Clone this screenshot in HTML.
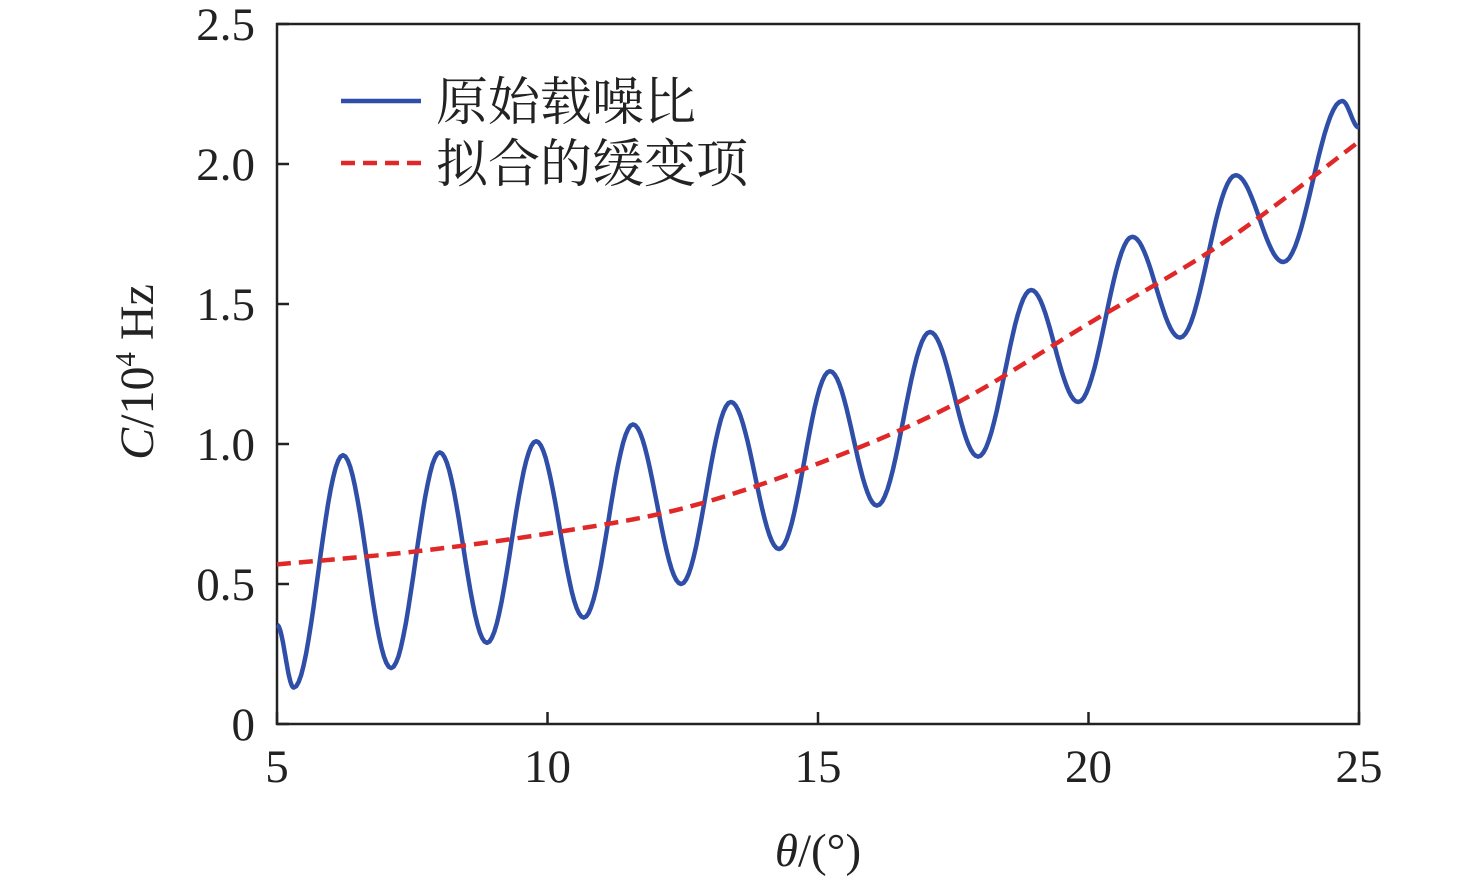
<!DOCTYPE html>
<html><head><meta charset="utf-8"><style>
html,body{margin:0;padding:0;background:#fff;}
svg{display:block;font-family:"Liberation Serif","Noto Serif CJK SC",serif;}
</style></head><body>
<svg id="chart" width="1476" height="883" viewBox="0 0 1476 883">
<g id="axes"></g>
<g id="series"></g>
<g id="legend">
 <line x1="341" y1="101" x2="421" y2="101" stroke="#2f4ea8" stroke-width="4.5"/>
 <text x="436" y="120" font-size="52" fill="#222">原始载噪比</text>
 <line x1="341" y1="163" x2="421" y2="163" stroke="#e02828" stroke-width="4.5" stroke-dasharray="14,8"/>
 <text x="436" y="182" font-size="52" fill="#222">拟合的缓变项</text>
</g>
</svg>
<script>
const xTicks=[5,10,15,20,25];
const yTicks=[0,0.5,1.0,1.5,2.0,2.5];
const yTickLabels=["0","0.5","1.0","1.5","2.0","2.5"];
const rawTheta=[5,5.31,6.22,7.11,8.01,8.88,9.79,10.67,11.58,12.47,13.39,14.28,15.22,16.09,17.07,17.96,18.94,19.81,20.81,21.69,22.72,23.6,24.69,25];
const rawC=[0.354,0.13,0.96,0.20,0.97,0.29,1.01,0.38,1.07,0.50,1.15,0.625,1.26,0.78,1.40,0.955,1.55,1.15,1.74,1.38,1.96,1.65,2.225,2.13];
const fitTheta=[5,7.5,10,12.5,15,17.5,20,22.5,25];
const fitC=[0.57,0.615,0.68,0.77,0.93,1.14,1.43,1.72,2.08];

const X0=277,X1=1359,Y0=724,Y1=24;
const xs=v=>X0+(v-5)/20*(X1-X0);
const ys=v=>Y0-(v/2.5)*(Y0-Y1);
const NS="http://www.w3.org/2000/svg";
function mk(tag,attrs,parent){const e=document.createElementNS(NS,tag);for(const k in attrs)e.setAttribute(k,attrs[k]);parent.appendChild(e);return e;}
const axes=document.getElementById('axes'),series=document.getElementById('series');

const frame=mk('rect',{x:X0,y:Y1,width:X1-X0,height:Y0-Y1,fill:'none',stroke:'#222','stroke-width':2.5},axes);


xTicks.forEach(t=>{
 const l=mk('line',{x1:xs(t),x2:xs(t),y1:Y0,y2:Y0-12,stroke:'#222','stroke-width':2.5},axes);
 
 
 const tx=mk('text',{x:xs(t),y:782,'font-size':47,'text-anchor':'middle',fill:'#222'},axes);
 tx.textContent=t;
 
 
});
yTicks.forEach((t,i)=>{
 const l=mk('line',{x1:X0,x2:X0+12,y1:ys(t),y2:ys(t),stroke:'#222','stroke-width':2.5},axes);
 
 
 const tx=mk('text',{x:255,y:ys(t)+16,'font-size':47,'text-anchor':'end',fill:'#222'},axes);
 tx.textContent=yTickLabels[i];
 
 
});
const xt=mk('text',{x:818,y:866,'font-size':47,'text-anchor':'middle',fill:'#222'},axes);
xt.innerHTML='<tspan font-style="italic">θ</tspan>/(°)';


const yt=mk('text',{x:0,y:0,'font-size':48,'text-anchor':'middle',fill:'#222',transform:'translate(153,372) rotate(-90)'},axes);
yt.innerHTML='<tspan font-style="italic">C</tspan>/10<tspan font-size="29" dy="-18">4</tspan><tspan dy="18"> Hz</tspan>';



let d='';
for(let i=0;i<rawTheta.length-1;i++){
 const a=rawTheta[i],b=rawTheta[i+1],ca=rawC[i],cb=rawC[i+1];
 for(let k=(i?1:0);k<=20;k++){
  const f=k/20,th=a+(b-a)*f,c=ca+(cb-ca)*(1-Math.cos(Math.PI*f))/2;
  d+=(d?'L':'M')+xs(th).toFixed(1)+','+ys(c).toFixed(1);
 }
}
const raw=mk('path',{d:d,fill:'none',stroke:'#2f4ea8','stroke-width':4.5,'stroke-linejoin':'round'},series);



const P=fitTheta.map((t,i)=>[xs(t),ys(fitC[i])]);
let fd='M'+P[0][0]+','+P[0][1];
for(let i=0;i<P.length-1;i++){
 const p0=P[Math.max(0,i-1)],p1=P[i],p2=P[i+1],p3=P[Math.min(P.length-1,i+2)];
 fd+='C'+(p1[0]+(p2[0]-p0[0])/6)+','+(p1[1]+(p2[1]-p0[1])/6)+' '+(p2[0]-(p3[0]-p1[0])/6)+','+(p2[1]-(p3[1]-p1[1])/6)+' '+p2[0]+','+p2[1];
}
const fit=mk('path',{d:fd,fill:'none',stroke:'#e02828','stroke-width':4.5,'stroke-dasharray':'14,8'},series);


</script>
</body></html>
